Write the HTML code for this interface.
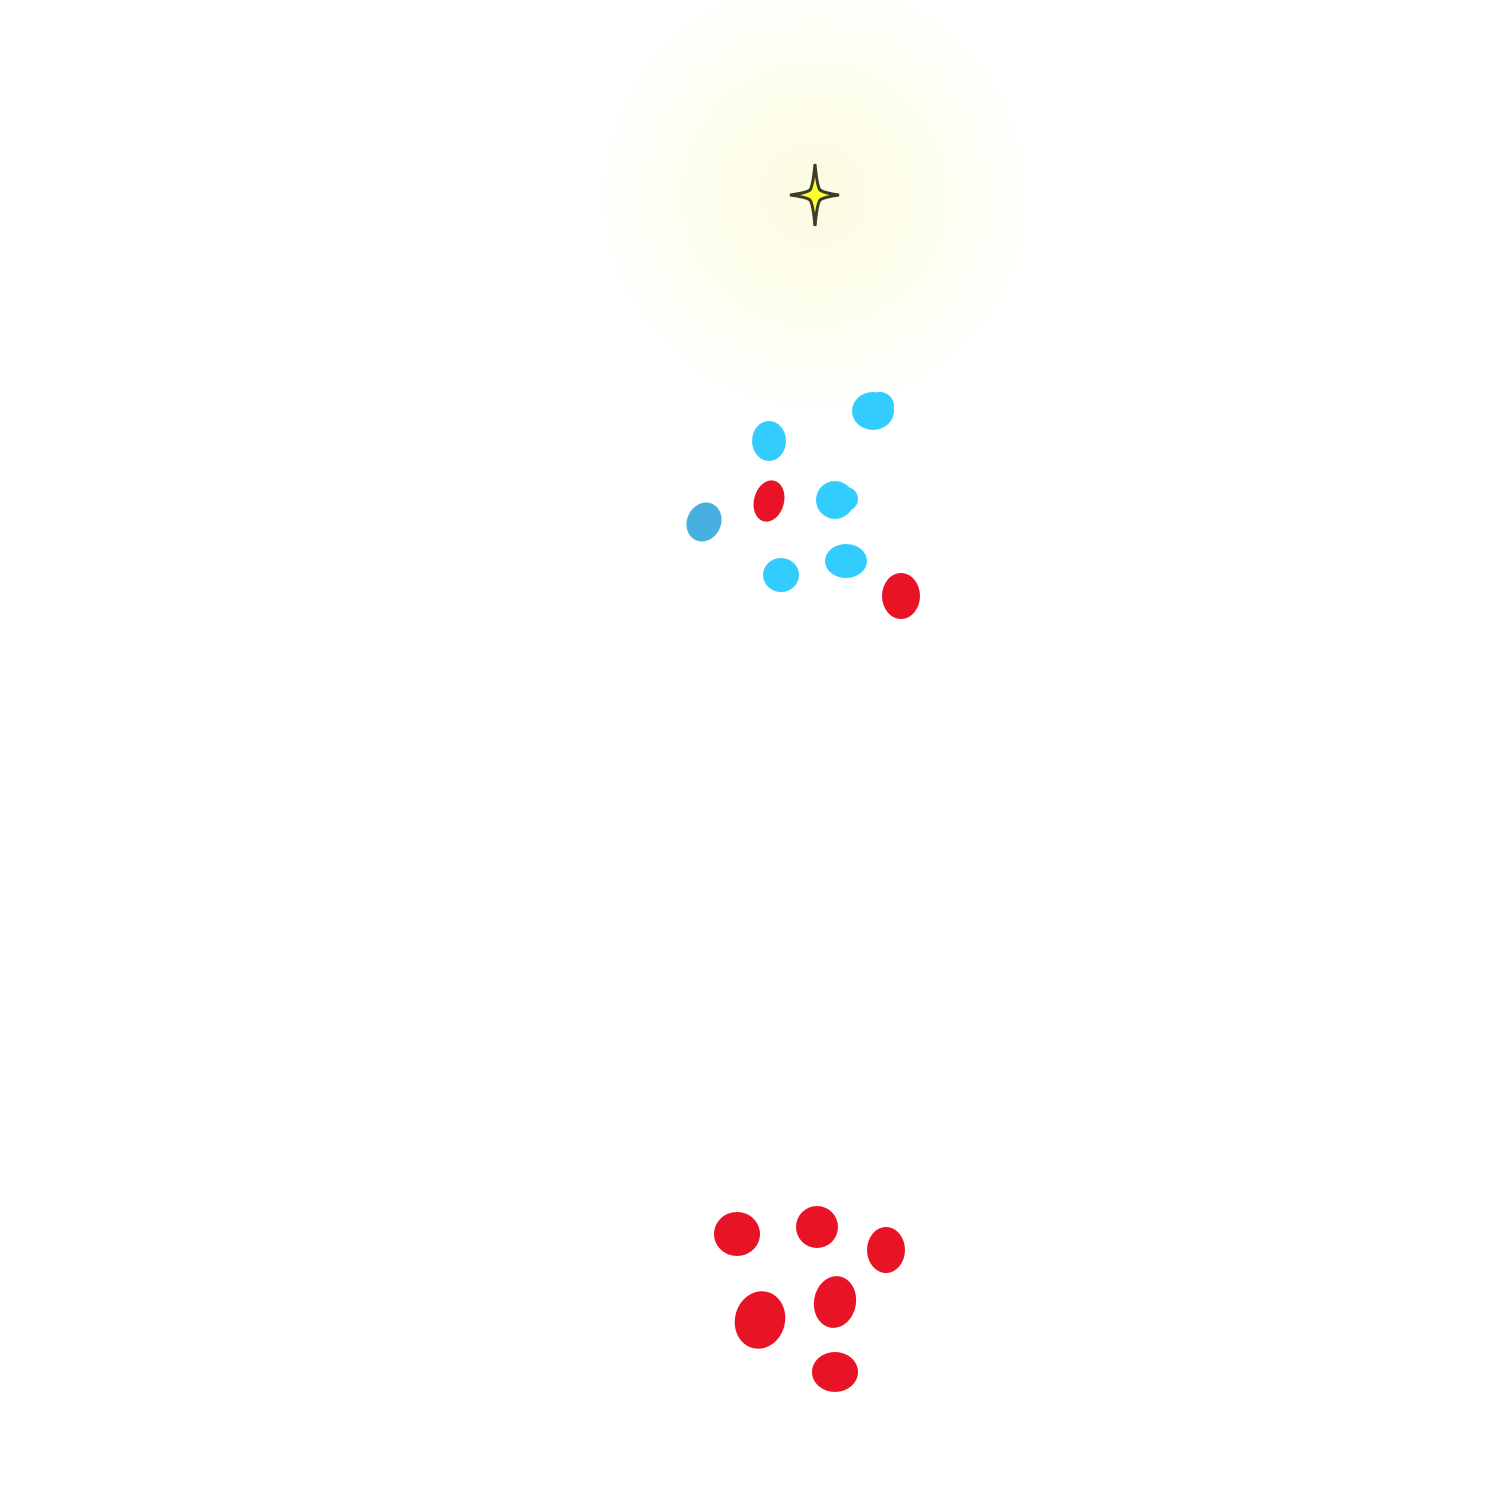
<!DOCTYPE html>
<html><head><meta charset="utf-8"><style>html,body{margin:0;padding:0;background:#fff;}svg{display:block}</style></head>
<body>
<svg width="1500" height="1500" viewBox="0 0 1500 1500" xmlns="http://www.w3.org/2000/svg">
<defs>
<radialGradient id="g" cx="815" cy="195" r="225" gradientUnits="userSpaceOnUse">
<stop offset="0" stop-color="#fcfce2"/>
<stop offset="0.45" stop-color="#fdfdec"/>
<stop offset="0.8" stop-color="#fefef8"/>
<stop offset="1" stop-color="#ffffff"/>
</radialGradient>
</defs>
<rect width="1500" height="1500" fill="#fff"/>
<circle cx="815" cy="195" r="225" fill="url(#g)"/>
<path d="M815,164 Q817,186 820,190 Q824,193 839,195 Q824,197 820,200 Q817,204 815,226 Q813,204 810,200 Q806,197 790,195 Q806,193 810,190 Q813,186 815,164Z" fill="#ffff30" stroke="#3c3c2c" stroke-width="3" stroke-linejoin="miter"/>
<g fill="#33ccff">
<ellipse cx="873" cy="411" rx="21" ry="19"/>
<circle cx="880" cy="406" r="14"/>
<ellipse cx="769" cy="441" rx="17" ry="20"/>
<ellipse cx="835" cy="500" rx="19" ry="19"/>
<circle cx="846" cy="499" r="12"/>
<ellipse cx="781" cy="575" rx="18" ry="17"/>
<ellipse cx="846" cy="561" rx="21" ry="17"/>
</g>
<ellipse cx="704" cy="522" rx="17" ry="20" fill="#47b0e0" transform="rotate(25 704 522)"/>
<g fill="#e81426">
<ellipse cx="769" cy="501" rx="15" ry="21" transform="rotate(15 769 501)"/>
<ellipse cx="901" cy="596" rx="19" ry="23"/>
<ellipse cx="737" cy="1234" rx="23" ry="22"/>
<ellipse cx="817" cy="1227" rx="21" ry="21"/>
<ellipse cx="886" cy="1250" rx="19" ry="23"/>
<ellipse cx="760" cy="1320" rx="25" ry="29" transform="rotate(15 760 1320)"/>
<ellipse cx="835" cy="1302" rx="21" ry="26" transform="rotate(10 835 1302)"/>
<ellipse cx="835" cy="1372" rx="23" ry="20"/>
</g>
</svg>
</body></html>
